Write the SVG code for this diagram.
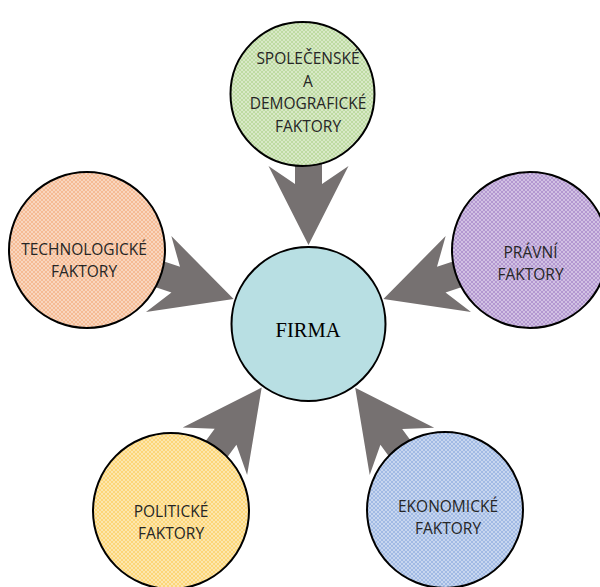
<svg xmlns="http://www.w3.org/2000/svg" xmlns:xlink="http://www.w3.org/1999/xlink" width="600" height="587" viewBox="0 0 600 587">
  <style>
    .node { stroke: #000; stroke-width: 2; }
    .tex { fill: url(#dots); stroke: none; }
    .lbl { font-family: "Open Sans", "Noto Sans", sans-serif; font-size: 15.5px; fill: #262626; text-anchor: middle; }
    .core { font-family: "Liberation Serif", "Times New Roman", serif; font-size: 20.5px; fill: #000; text-anchor: middle; }
    .arrow { fill: #767171; }
  </style>
  <defs>
    <!-- fine light diamond lattice laid over the factor fills -->
    <pattern id="dots" width="4" height="4" patternUnits="userSpaceOnUse">
      <g fill="#fff" fill-opacity="0.4" shape-rendering="crispEdges">
        <rect x="0" y="0" width="1" height="1"/>
        <rect x="1" y="1" width="1" height="1"/>
        <rect x="2" y="2" width="1" height="1"/>
        <rect x="3" y="3" width="1" height="1"/>
        <rect x="3" y="0" width="1" height="1"/>
        <rect x="2" y="1" width="1" height="1"/>
        <rect x="1" y="2" width="1" height="1"/>
        <rect x="0" y="3" width="1" height="1"/>
      </g>
    </pattern>
    <!-- block arrow, tip at origin, pointing along +x -->
    <polygon id="arrow" points="0,0 -79,-40 -61,-13.5 -140,-13.5 -140,13.5 -61,13.5 -79,40"/>
  </defs>

  <rect width="600" height="587" fill="#fff"/>

  <g id="connectors" class="arrow">
    <use xlink:href="#arrow" transform="translate(308.5,245) rotate(90)"/>
    <use xlink:href="#arrow" transform="translate(233.6,299) rotate(18.47)"/>
    <use xlink:href="#arrow" transform="translate(383.4,299) rotate(161.53)"/>
    <use xlink:href="#arrow" transform="translate(261.7,387.6) rotate(-53.67)"/>
    <use xlink:href="#arrow" transform="translate(355.2,387.7) rotate(-126.28)"/>
  </g>

  <g id="firma">
    <circle class="node" cx="308.5" cy="324" r="77" fill="#b8dfe3"/>
    <text class="core" x="308" y="337">FIRMA</text>
  </g>

  <g id="spolecenske">
    <circle cx="302.5" cy="94" r="72" fill="#bedba2"/>
    <circle class="tex" cx="302.5" cy="94" r="72"/>
    <circle class="node" cx="302.5" cy="94" r="72" fill="none"/>
    <text class="lbl" x="308" y="64">SPOLEČENSKÉ</text>
    <text class="lbl" x="308" y="86.5">A</text>
    <text class="lbl" x="308" y="109">DEMOGRAFICKÉ</text>
    <text class="lbl" x="308" y="131.5">FAKTORY</text>
  </g>

  <g id="technologicke">
    <circle cx="87" cy="250" r="78" fill="#f5bb94"/>
    <circle class="tex" cx="87" cy="250" r="78"/>
    <circle class="node" cx="87" cy="250" r="78" fill="none"/>
    <text class="lbl" x="84" y="255">TECHNOLOGICKÉ</text>
    <text class="lbl" x="84" y="276.5">FAKTORY</text>
  </g>

  <g id="pravni">
    <circle cx="530" cy="250" r="78" fill="#b398d0"/>
    <circle class="tex" cx="530" cy="250" r="78"/>
    <circle class="node" cx="530" cy="250" r="78" fill="none"/>
    <text class="lbl" x="530.5" y="258">PRÁVNÍ</text>
    <text class="lbl" x="530.5" y="280">FAKTORY</text>
  </g>

  <g id="politicke">
    <circle cx="171" cy="511" r="78" fill="#fcd678"/>
    <circle class="tex" cx="171" cy="511" r="78"/>
    <circle class="node" cx="171" cy="511" r="78" fill="none"/>
    <text class="lbl" x="171" y="517">POLITICKÉ</text>
    <text class="lbl" x="171" y="538.5">FAKTORY</text>
  </g>

  <g id="ekonomicke">
    <circle cx="445" cy="510" r="78" fill="#a1bae4"/>
    <circle class="tex" cx="445" cy="510" r="78"/>
    <circle class="node" cx="445" cy="510" r="78" fill="none"/>
    <text class="lbl" x="448" y="512">EKONOMICKÉ</text>
    <text class="lbl" x="448" y="533.5">FAKTORY</text>
  </g>
</svg>
